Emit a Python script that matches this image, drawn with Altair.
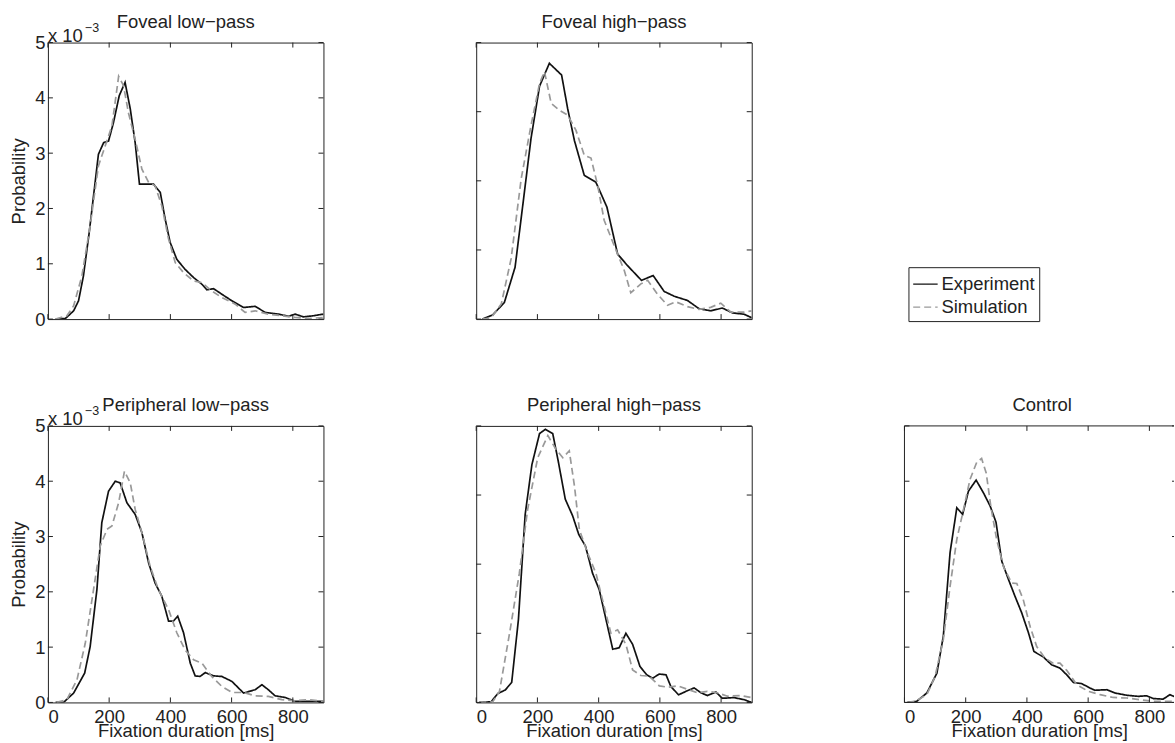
import altair as alt
import pandas as pd

FONT = "Liberation Sans"
TXT = "#222222"
FS = 18.5
W, H = 276, 277
W_CUT = 270  # the last panel runs past the right edge of the page

series_names = ["Experiment", "Simulation"]
series_colors = ["#111111", "#999999"]
x_ticks = [0, 200, 400, 600, 800]

# values in units of 10^-3
fl_exp_x = [25, 57, 84, 100, 116, 135, 165, 182, 198, 214, 233, 252, 269, 285, 299, 329, 345, 367, 383, 399, 421, 448, 476, 503, 519, 541, 568, 601, 639, 677, 710, 753, 786, 807, 835, 867, 900]
fl_exp_y = [0, 0.01, 0.15, 0.33, 0.78, 1.57, 2.98, 3.19, 3.22, 3.55, 4.04, 4.28, 3.8, 3.19, 2.44, 2.44, 2.44, 2.29, 1.81, 1.39, 1.08, 0.9, 0.75, 0.63, 0.53, 0.55, 0.45, 0.33, 0.21, 0.23, 0.12, 0.09, 0.05, 0.09, 0.04, 0.06, 0.09]
fl_sim_x = [25, 62, 84, 111, 138, 165, 187, 209, 231, 247, 263, 285, 307, 329, 350, 372, 394, 416, 443, 476, 503, 535, 568, 612, 644, 677, 720, 764, 807, 851, 900]
fl_sim_y = [0, 0.06, 0.24, 0.78, 1.69, 2.77, 3.13, 3.49, 4.39, 4.22, 3.73, 3.25, 2.71, 2.47, 2.41, 2.05, 1.45, 1.02, 0.84, 0.69, 0.66, 0.51, 0.39, 0.27, 0.12, 0.15, 0.09, 0.06, 0.03, 0.01, 0.03]

fh_exp_x = [20, 54, 92, 127, 152, 179, 207, 239, 279, 299, 321, 353, 391, 427, 462, 495, 540, 578, 614, 647, 690, 728, 766, 804, 837, 875, 900]
fh_exp_y = [0, 0.06, 0.24, 0.75, 1.64, 2.61, 3.37, 3.70, 3.53, 3.04, 2.58, 2.08, 1.98, 1.62, 0.94, 0.77, 0.56, 0.63, 0.40, 0.33, 0.27, 0.15, 0.12, 0.16, 0.09, 0.07, 0.02]
fh_sim_x = [20, 49, 82, 114, 147, 179, 207, 223, 245, 272, 299, 326, 353, 375, 397, 418, 451, 484, 505, 538, 560, 592, 625, 652, 690, 728, 766, 799, 832, 875, 900]
fh_sim_y = [0, 0.02, 0.22, 0.87, 2.03, 2.8, 3.41, 3.58, 3.12, 3.02, 2.95, 2.73, 2.37, 2.33, 1.93, 1.43, 1.06, 0.70, 0.38, 0.51, 0.56, 0.36, 0.20, 0.25, 0.18, 0.14, 0.17, 0.23, 0.10, 0.10, 0.12]

pl_exp_x = [25, 51, 84, 120, 138, 160, 176, 198, 220, 236, 258, 285, 307, 329, 350, 372, 394, 410, 424, 443, 465, 481, 497, 514, 541, 568, 601, 639, 677, 699, 720, 742, 775, 807, 851, 900]
pl_exp_y = [0, 0, 0.17, 0.53, 1.01, 2.04, 3.25, 3.82, 4.0, 3.97, 3.61, 3.40, 3.07, 2.52, 2.16, 1.92, 1.47, 1.47, 1.56, 1.26, 0.71, 0.48, 0.47, 0.54, 0.48, 0.47, 0.38, 0.17, 0.23, 0.32, 0.23, 0.12, 0.09, 0.02, 0.02, 0.02]
pl_sim_x = [29, 62, 95, 122, 149, 171, 193, 209, 231, 250, 269, 285, 307, 334, 361, 394, 421, 448, 476, 503, 535, 568, 601, 639, 677, 720, 764, 807, 851, 900]
pl_sim_y = [0, 0.05, 0.41, 1.07, 2.04, 2.83, 3.13, 3.19, 3.61, 4.18, 3.97, 3.49, 3.07, 2.46, 2.04, 1.68, 1.26, 0.95, 0.77, 0.71, 0.47, 0.29, 0.18, 0.18, 0.12, 0.11, 0.05, 0.03, 0.05, 0.02]

ph_exp_x = [10, 49, 71, 95, 116, 138, 160, 182, 207, 226, 250, 268, 291, 315, 335, 357, 380, 402, 424, 446, 467, 489, 511, 535, 557, 576, 598, 620, 636, 661, 690, 712, 734, 755, 783, 804, 842, 875, 900]
ph_exp_y = [0, 0.01, 0.13, 0.18, 0.29, 1.2, 2.72, 3.44, 3.89, 3.95, 3.89, 3.49, 2.94, 2.70, 2.43, 2.26, 1.87, 1.63, 1.20, 0.77, 0.79, 1.0, 0.84, 0.52, 0.40, 0.35, 0.41, 0.40, 0.23, 0.11, 0.17, 0.21, 0.14, 0.10, 0.15, 0.06, 0.07, 0.04, 0]
ph_sim_x = [10, 54, 76, 109, 141, 168, 201, 234, 261, 283, 304, 321, 337, 364, 391, 418, 440, 462, 489, 511, 538, 565, 598, 625, 658, 690, 723, 755, 788, 821, 864, 900]
ph_sim_y = [0, 0.01, 0.16, 1.0, 1.87, 2.79, 3.54, 3.86, 3.66, 3.54, 3.64, 3.13, 2.50, 2.16, 1.87, 1.39, 1.0, 1.05, 0.84, 0.47, 0.39, 0.38, 0.24, 0.22, 0.24, 0.19, 0.14, 0.16, 0.14, 0.09, 0.10, 0.07]

ct_exp_x = [10, 40, 73, 106, 127, 149, 171, 190, 209, 234, 258, 280, 299, 318, 340, 361, 383, 405, 423, 454, 481, 508, 530, 552, 579, 606, 622, 661, 688, 726, 764, 791, 813, 845, 867, 884, 900]
ct_exp_y = [0, 0.02, 0.17, 0.53, 1.2, 2.71, 3.52, 3.40, 3.82, 4.02, 3.79, 3.55, 3.26, 2.55, 2.22, 1.92, 1.62, 1.26, 0.92, 0.82, 0.68, 0.62, 0.50, 0.36, 0.34, 0.26, 0.22, 0.23, 0.17, 0.13, 0.11, 0.12, 0.07, 0.06, 0.14, 0.10, 0.05]
ct_sim_x = [10, 35, 73, 100, 127, 149, 171, 193, 214, 236, 252, 267, 282, 301, 323, 350, 367, 388, 410, 432, 459, 486, 508, 530, 563, 601, 639, 682, 726, 769, 813, 856, 900]
ct_sim_y = [0, 0.02, 0.14, 0.47, 1.14, 2.10, 2.95, 3.49, 4.03, 4.34, 4.41, 4.15, 3.55, 2.95, 2.46, 2.16, 2.15, 1.86, 1.38, 1.01, 0.80, 0.71, 0.71, 0.58, 0.32, 0.20, 0.14, 0.09, 0.08, 0.05, 0.02, 0.02, 0.02]

legend = alt.Legend(
    title=None, orient="none", legendX=862, legendY=225, direction="vertical",
    strokeColor=TXT, fillColor="white", padding=4, symbolType="stroke",
    symbolSize=600, symbolStrokeWidth=1.3, labelFont=FONT, labelFontSize=FS,
    labelColor=TXT, labelOffset=3, rowPadding=-4,
)


def text_layer(s, size, x, y, align):
    return alt.Chart(pd.DataFrame({"s": [s]})).mark_text(
        align=align, baseline="alphabetic", font=FONT, fontSize=size, color=TXT
    ).encode(text="s:N", x=alt.value(x), y=alt.value(y))


def panel(title, ex, ey, sx, sy, ymax, left, bottom, cut=False):
    width = W_CUT if cut else W
    df = pd.DataFrame({
        "ms": ex + sx,
        "p": ey + sy,
        "series": ["Experiment"] * len(ex) + ["Simulation"] * len(sx),
    })
    xmax = 900 * width / W
    xs = alt.Scale(domain=[0, xmax], nice=False, zero=False)
    ys = alt.Scale(domain=[0, ymax], nice=False)
    yt = list(range(0, ymax + 1))
    x_axis = alt.Axis(values=x_ticks, labels=bottom, format="d", labelPadding=5,
                      titlePadding=-4,
                      title="Fixation duration [ms]" if bottom else None)
    y_axis = alt.Axis(values=yt, labels=left, format="d", labelPadding=3,
                      titlePadding=6, title="Probability" if left else None)
    lines = alt.Chart(df).mark_line(strokeWidth=1.7, clip=True).encode(
        x=alt.X("ms:Q", scale=xs, axis=x_axis),
        y=alt.Y("p:Q", scale=ys, axis=y_axis),
        color=alt.Color("series:N", scale=alt.Scale(domain=series_names, range=series_colors), legend=legend),
        strokeDash=alt.StrokeDash("series:N", scale=alt.Scale(domain=series_names, range=[[1, 0], [7, 4]]), legend=legend),
    )
    tx = pd.DataFrame({"t": x_ticks})
    ty = pd.DataFrame({"v": yt})
    rule = dict(color=TXT, strokeWidth=1)
    tb = alt.Chart(tx).mark_rule(**rule).encode(x=alt.X("t:Q", scale=xs, axis=x_axis), y=alt.value(H), y2=alt.value(H - 5))
    tt = alt.Chart(tx).mark_rule(**rule).encode(x=alt.X("t:Q", scale=xs, axis=x_axis), y=alt.value(0), y2=alt.value(5))
    tl = alt.Chart(ty).mark_rule(**rule).encode(y=alt.Y("v:Q", scale=ys, axis=y_axis), x=alt.value(0), x2=alt.value(5))
    rx = width - 2 if cut else width - 5
    tr = alt.Chart(ty).mark_rule(**rule).encode(y=alt.Y("v:Q", scale=ys, axis=y_axis), x=alt.value(width), x2=alt.value(rx))
    layers = [lines, tb, tt, tl, tr, text_layer(title, FS, W / 2, -14.5, "center")]
    if left:
        layers += [text_layer("x 10", FS, 0, -1, "left"),
                   text_layer("\u22123", 12.5, 37, -11, "left")]
    if cut:
        one = pd.DataFrame({"k": [0]})
        frame = alt.Chart(one).mark_rule(color=TXT, strokeWidth=1)
        layers += [
            frame.encode(x=alt.value(0), x2=alt.value(width), y=alt.value(0)),
            frame.encode(x=alt.value(0), x2=alt.value(width), y=alt.value(H)),
            frame.encode(x=alt.value(0), y=alt.value(0), y2=alt.value(H)),
        ]
        return alt.layer(*layers).properties(
            width=width, height=H, view=alt.ViewBackground(stroke="transparent"))
    return alt.layer(*layers).properties(width=width, height=H)


p1 = panel("Foveal low\u2212pass", fl_exp_x, fl_exp_y, fl_sim_x, fl_sim_y, 5, True, False)
p2 = panel("Foveal high\u2212pass", fh_exp_x, fh_exp_y, fh_sim_x, fh_sim_y, 4, False, False)
p3 = panel("Peripheral low\u2212pass", pl_exp_x, pl_exp_y, pl_sim_x, pl_sim_y, 5, True, True)
p4 = panel("Peripheral high\u2212pass", ph_exp_x, ph_exp_y, ph_sim_x, ph_sim_y, 4, False, True)
p5 = panel("Control", ct_exp_x, ct_exp_y, ct_sim_x, ct_sim_y, 5, False, True, cut=True)

# empty grid cell (top right) - the legend is placed over it
blank = alt.Chart(pd.DataFrame({"k": [0]})).mark_point(opacity=0).encode(
    x=alt.value(0), y=alt.value(0)
).properties(width=W_CUT, height=H, view=alt.ViewBackground(stroke="transparent"))

chart = alt.concat(
    p1, p2, blank, p3, p4, p5,
    columns=3, spacing={"row": 107, "column": 153}, bounds="flush",
).properties(
    padding={"left": 9, "top": 12, "right": 0, "bottom": 0},
    background="white",
).configure_view(stroke=TXT, strokeWidth=1).configure_axis(
    grid=False, ticks=False, domain=False,
    labelFont=FONT, labelFontSize=FS, labelColor=TXT,
    titleFont=FONT, titleFontSize=FS, titleFontWeight="normal", titleColor=TXT,
)

chart.save("out.html", embed_options={"renderer": "svg", "actions": False})
